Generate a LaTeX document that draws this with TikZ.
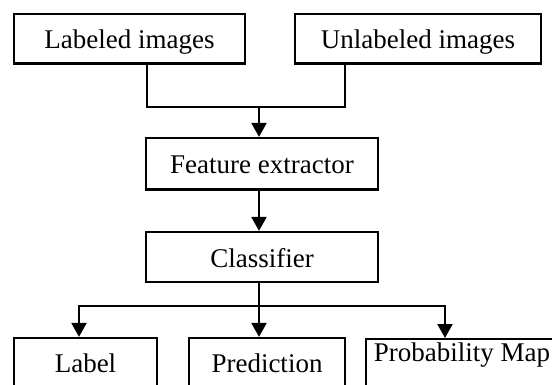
\documentclass[tikz,border=0pt]{standalone}
\usepackage{fontspec}
\setmainfont{Liberation Serif}
\usetikzlibrary{arrows.meta,calc}
\begin{document}
\begin{tikzpicture}[x=1pt,y=-1pt,
  txt/.style={font=\fontsize{27}{32}\selectfont},
  box/.style={txt,draw=black,line width=2.2pt,fill=white,inner sep=0pt,
    text height=20pt,text depth=0pt},
  wire/.style={line width=2.2pt},
  arr/.style={wire,-{Triangle[width=15pt,length=14pt]}}]
\useasboundingbox (0,0) rectangle (552,385);
\clip (0,0) rectangle (552,385);
\node[box,minimum width=231pt,minimum height=49.5pt] (lab) at (129.5,38.75) {Labeled images};
\node[box,minimum width=246pt,minimum height=49.5pt] (unl) at (418,38.75) {Unlabeled images};
\node[box,minimum width=232pt,minimum height=51.5pt] (feat) at (262,163.75) {Feature extractor};
\node[box,minimum width=232pt,minimum height=50pt] (cls) at (262,257) {Classifier};
\node[box,minimum width=143pt,minimum height=48pt] (lbl) at (85.5,362) {Label};
\node[box,minimum width=156pt,minimum height=48pt] (pred) at (267,362) {Prediction};
\node[box,minimum width=200pt,minimum height=48pt,anchor=north west] (pm) at (365,338) {};
\node[txt,inner sep=0pt,anchor=base] (pmt) at (462,361.7) {Probability Map};
\coordinate (j1) at (259,107);
\coordinate (j2) at (259,306);
\draw[wire] ([xshift=17.2pt]lab.south) |- (j1) -| ([xshift=-73pt]unl.south);
\draw[arr] (j1) -- (feat.north -| j1);
\draw[arr] (feat.south -| j1) -- (cls.north -| j1);
\draw[wire] (cls.south -| j1) -- (j2);
\draw[arr] (j2) -| ([xshift=-6.5pt]lbl.north);
\draw[arr] (j2) -- (pred.north -| j2);
\draw[arr] (j2) -| ($(pm.north west)+(80,0)$);
\end{tikzpicture}
\end{document}
